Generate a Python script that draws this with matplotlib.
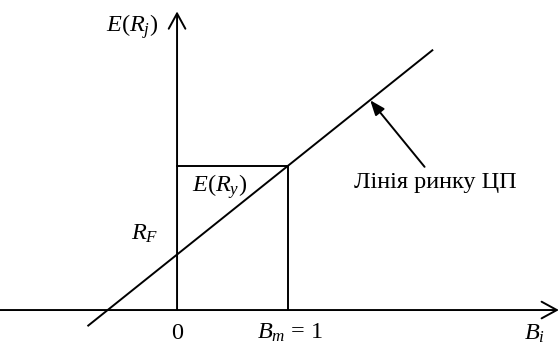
import matplotlib.pyplot as plt

plt.rcParams['font.family'] = ['Liberation Serif', 'DejaVu Serif']
plt.rcParams['mathtext.fontset'] = 'custom'
plt.rcParams['mathtext.rm'] = 'Liberation Serif'
plt.rcParams['mathtext.it'] = 'Liberation Serif:italic'

# security market line (beta, expected return)
sml_beta = [-0.8, 2.3]
sml_ret = [-0.14, 2.34]
risk_free = 0.5
beta_m = 1.0
ret_m = 1.3

# axis extents
x_axis = [-1.6, 3.44]
y_axis = [0.0, 2.69]

fig = plt.figure(figsize=(5.6, 3.45), dpi=100)
ax = fig.add_axes([0, 0, 1, 1])
ax.set_xlim(-1.595, 3.450)
ax.set_ylim(-0.315, 2.793)
ax.axis('off')

lw = 1.4
# axes with open arrows
ax.annotate('', xy=(x_axis[1], 0), xytext=(x_axis[0], 0),
            arrowprops=dict(arrowstyle='->,head_length=0.55,head_width=0.3',
                            lw=lw, color='black',
                            mutation_scale=20, shrinkA=0, shrinkB=0))
ax.annotate('', xy=(0, y_axis[1]), xytext=(0, y_axis[0]),
            arrowprops=dict(arrowstyle='->,head_length=0.55,head_width=0.3',
                            lw=lw, color='black',
                            mutation_scale=20, shrinkA=0, shrinkB=0))

# SML
ax.plot(sml_beta, sml_ret, color='black', lw=lw)

# box at beta = 1
ax.plot([0, beta_m], [ret_m, ret_m], color='black', lw=lw)
ax.plot([beta_m, beta_m], [0, ret_m], color='black', lw=lw)

# pointer to the line
ax.annotate('', xy=(1.74, 1.89), xytext=(2.23, 1.29),
            arrowprops=dict(arrowstyle='-|>,head_length=0.9,head_width=0.35',
                            lw=lw, color='black', shrinkA=0, shrinkB=0))

fs = 17.5
ax.text(-0.405, 2.55, r'$E(R_j)$', fontsize=fs, ha='center', va='center')
ax.text(0.38, 1.11, r'$E(R_y)$', fontsize=fs, ha='center', va='center')
ax.text(-0.29, 0.69, r'$R_F$', fontsize=fs, ha='center', va='center')
ax.text(0, -0.21, '0', fontsize=fs, ha='center', va='center')
ax.text(1.02, -0.21, r'$B_m$ = 1', fontsize=fs, ha='center', va='center')
ax.text(3.22, -0.215, r'$B_i$', fontsize=fs, ha='center', va='center')
ax.text(2.33, 1.15, 'Лінія ринку ЦП', fontsize=fs, ha='center', va='center')

fig.savefig('out.png', dpi=100)
